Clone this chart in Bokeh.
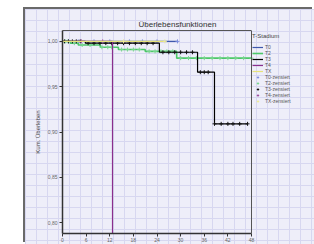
from bokeh.plotting import figure
from bokeh.models import Range1d, FixedTicker, Legend, LegendItem, Title, LinearAxis, Span
from bokeh.embed import file_html
from bokeh.resources import INLINE

# ---- data ----
x_ticks = [0, 6, 12, 18, 24, 30, 36, 42, 48]
x_end = 48
y_ticks = [0.80, 0.85, 0.90, 0.95, 1.00]
y_tick_labels = ["0,80", "0,85", "0,90", "0,95", "1,00"]

groups = ["T0", "T2", "T3", "T4", "TX"]
colors = ["#3e58ac", "#4cc868", "#000000", "#8a2f8c", "#e6e27a"]
cens_colors = ["#7f8fe0", "#7ad690", "#111111", "#a050a2", "#ecea9a"]
widths = [1.2, 1.6, 1.2, 1.2, 1.2]

t0_time = [0.0, 29.2]
t0_surv = [1.0, 1.0]
t2_time = [0.0, 2.0, 4.0, 9.6, 14.2, 21.0, 29.0, 48.0]
t2_surv = [1.0, 0.998, 0.996, 0.9935, 0.991, 0.989, 0.9815, 0.9815]
t3_time = [0.0, 5.8, 24.6, 34.3, 38.6, 47.0]
t3_surv = [1.0, 0.998, 0.988, 0.966, 0.909, 0.909]
t4_time = [0.0, 12.7]
t4_surv = [1.0, 0.0]
tx_time = [0.0, 26.0]
tx_surv = [1.0, 1.0]

t0_cens = [1.5, 4.0, 8.0, 12.0, 17.0, 20.3, 24.0, 29.2]
t2_cens = [0.8, 1.5, 3.0, 5.0, 7.0, 10.0, 11.5, 12.5, 15.0, 16.5, 18.0, 19.5,
           22.0, 23.5, 25.0, 26.5, 28.0, 30.0, 32.0, 34.0, 36.0, 38.0, 40.0,
           42.0, 44.0, 46.0, 48.0]
t3_cens = [0.5, 1.5, 2.5, 3.5, 4.5, 6.5, 8.0, 9.5, 11.0, 12.5, 14.0, 15.5, 17.0,
           18.5, 20.0, 21.5, 23.0, 25.5, 27.0, 28.5, 30.0, 31.5, 33.0, 35.0,
           36.0, 37.0, 38.6, 40.3, 42.0, 43.3, 45.0, 47.0]
t4_cens = [4.8, 10.2]
tx_cens = [15.5, 26.0]

times = [t0_time, t2_time, t3_time, t4_time, tx_time]
survs = [t0_surv, t2_surv, t3_surv, t4_surv, tx_surv]
cens = [t0_cens, t2_cens, t3_cens, t4_cens, tx_cens]


def surv_at(tt, ss, t):
    v = ss[0]
    for a, b in zip(tt, ss):
        if a <= t:
            v = b
    return v


FONT = "Liberation Sans"

page_styles = {
    "box-shadow": "-2px -2px 0 0 #6a6a6a",
    "background-color": "#eeeef9",
    "background-image": ("linear-gradient(#d7d7f0 1px, transparent 1px), "
                         "linear-gradient(90deg, #d7d7f0 1px, transparent 1px)"),
    "background-size": "11px 11px",
}

# frame spans to the right edge so the legend (drawn inside the frame) is not clipped;
# the data area itself ends at x_end = 48 months
p = figure(width=289, height=235, x_range=Range1d(0, 64), y_range=Range1d(0.788, 1.012),
           output_backend="svg", toolbar_location=None,
           margin=(9, 0, 0, 25),
           min_border_left=37, min_border_right=0, min_border_top=21, min_border_bottom=8,
           styles=page_styles)

p.background_fill_alpha = 0
p.border_fill_alpha = 0
p.outline_line_color = None
p.xgrid.visible = False
p.ygrid.visible = False

for ax in (p.xaxis[0], p.yaxis[0]):
    ax.axis_line_color = "#333333"
    ax.axis_line_width = 1.5
    ax.major_tick_line_color = "#333333"
    ax.major_tick_out = 3
    ax.major_tick_in = 0
    ax.minor_tick_line_color = None
    ax.major_label_text_font_size = "5px"
    ax.major_label_text_font = FONT
    ax.major_label_text_color = "#666666"

p.xaxis.ticker = FixedTicker(ticks=x_ticks)
p.xaxis.bounds = (0, x_end)
p.xaxis.major_label_standoff = 1
p.yaxis.ticker = FixedTicker(ticks=y_ticks)
p.yaxis.major_label_overrides = {t: l for t, l in zip(y_ticks, y_tick_labels)}
p.yaxis.major_label_standoff = 2
p.yaxis.axis_label = "Kum. Überleben"
p.yaxis.axis_label_text_font_size = "6px"
p.yaxis.axis_label_text_font = FONT
p.yaxis.axis_label_text_font_style = "normal"
p.yaxis.axis_label_text_color = "#444444"
p.yaxis.axis_label_standoff = 4

# top border of the data area
top_ax = LinearAxis(bounds=(0, x_end), ticker=FixedTicker(ticks=[]),
                    axis_line_color="#555555", axis_line_width=1,
                    major_tick_line_color=None, minor_tick_line_color=None,
                    major_label_text_font_size="0px")
p.add_layout(top_ax, "above")
# right border of the data area
p.add_layout(Span(location=x_end, dimension="height", line_color="#555555", line_width=1))

p.add_layout(Title(text="Überlebensfunktionen", align="left", offset=76,
                   text_font_size="8px", text_font=FONT, text_font_style="normal",
                   text_color="#333333", standoff=4), "above")

legend_items = []
cens_items = []
for g, c, cc, w, tt, ss, cs in zip(groups, colors, cens_colors, widths, times, survs, cens):
    r = p.step(tt, ss, mode="after", line_color=c, line_width=w)
    cy = [surv_at(tt, ss, t) for t in cs]
    s = p.scatter(cs, cy, marker="cross", size=4, line_color=cc, line_width=1)
    legend_items.append(LegendItem(label=g, renderers=[r]))
    cens_items.append(LegendItem(label=g + "-zensiert", renderers=[s]))
legend_items += cens_items

legend = Legend(items=legend_items, location=(190, 129), title="T-Stadium",
                title_text_font_size="6px", title_text_font=FONT, title_text_font_style="normal",
                title_text_color="#444444", title_standoff=5,
                label_text_font_size="5px", label_text_font=FONT, label_text_color="#555555",
                glyph_width=11, glyph_height=6, label_height=6, label_standoff=2,
                spacing=0, padding=0, margin=0,
                background_fill_alpha=0, border_line_alpha=0)
p.add_layout(legend)

open("out.html", "w").write(file_html(p, INLINE))
